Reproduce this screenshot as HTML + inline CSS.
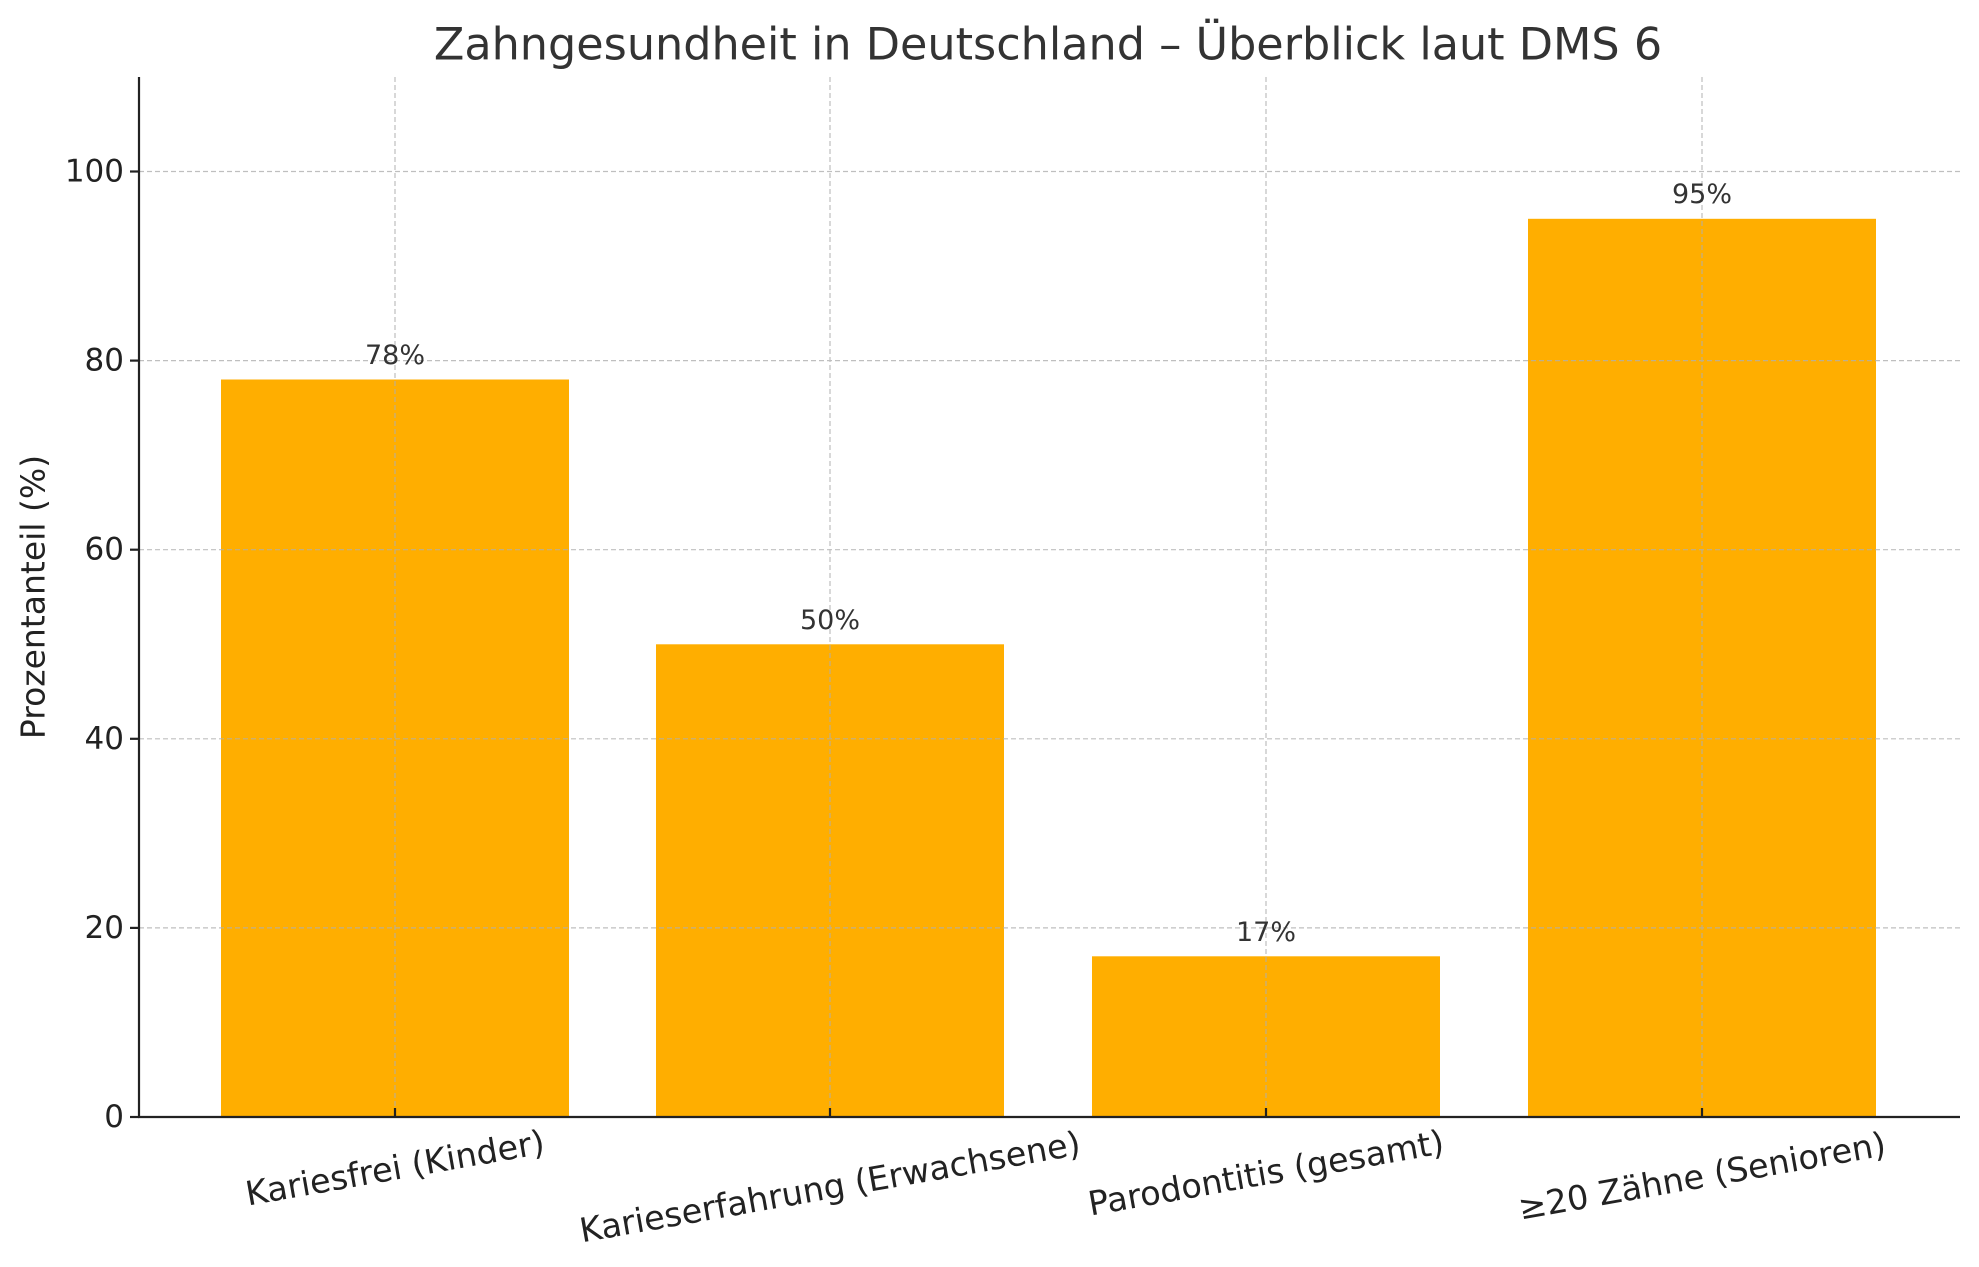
<!DOCTYPE html>
<html><head><meta charset="utf-8"><style>
html,body{margin:0;padding:0;background:#fff;}
svg{display:block;}
text{font-family:"DejaVu Sans","Liberation Sans",sans-serif;}
</style></head><body>
<svg width="1979" height="1267" viewBox="0 0 1979 1267" xmlns="http://www.w3.org/2000/svg">
<rect width="1979" height="1267" fill="#fff"/>
<g fill="#FFAE00">
<rect x="221" y="379.5" width="348" height="737.5"/>
<rect x="656" y="644.3" width="348" height="472.7"/>
<rect x="1092" y="956.3" width="348" height="160.7"/>
<rect x="1528" y="218.8" width="348" height="898.2"/>
</g>
<g stroke="#b0b0b0" stroke-width="1.2" stroke-dasharray="5,3" opacity="0.8">
<line x1="139" x2="1960" y1="927.9" y2="927.9"/>
<line x1="139" x2="1960" y1="738.8" y2="738.8"/>
<line x1="139" x2="1960" y1="549.7" y2="549.7"/>
<line x1="139" x2="1960" y1="360.6" y2="360.6"/>
<line x1="139" x2="1960" y1="171.5" y2="171.5"/>
<line x1="395" x2="395" y1="77" y2="1117"/>
<line x1="830" x2="830" y1="77" y2="1117"/>
<line x1="1266" x2="1266" y1="77" y2="1117"/>
<line x1="1702" x2="1702" y1="77" y2="1117"/>
</g>
<g stroke="#222" stroke-width="2.2">
<line x1="139" x2="139" y1="77" y2="1118"/>
<line x1="138" x2="1960" y1="1117" y2="1117"/>
<line x1="130" x2="139" y1="1117" y2="1117"/>
<line x1="130" x2="139" y1="927.9" y2="927.9"/>
<line x1="130" x2="139" y1="738.8" y2="738.8"/>
<line x1="130" x2="139" y1="549.7" y2="549.7"/>
<line x1="130" x2="139" y1="360.6" y2="360.6"/>
<line x1="130" x2="139" y1="171.5" y2="171.5"/>
<line x1="395" x2="395" y1="1108" y2="1117"/>
<line x1="830" x2="830" y1="1108" y2="1117"/>
<line x1="1266" x2="1266" y1="1108" y2="1117"/>
<line x1="1702" x2="1702" y1="1108" y2="1117"/>
</g>
<g font-size="31" fill="#222" text-anchor="end" dominant-baseline="central">
<text x="124" y="1117">0</text>
<text x="124" y="927.9">20</text>
<text x="124" y="738.8">40</text>
<text x="124" y="549.7">60</text>
<text x="124" y="360.6">80</text>
<text x="124" y="171.5">100</text>
</g>
<text transform="translate(33,597) rotate(-90)" font-size="33" fill="#222" text-anchor="middle" dominant-baseline="central">Prozentanteil (%)</text>
<text x="1048" y="45" font-size="44.5" fill="#333" text-anchor="middle" dominant-baseline="central">Zahngesundheit in Deutschland – Überblick laut DMS 6</text>
<g font-size="27" fill="#333" text-anchor="middle">
<text x="395" y="364">78%</text>
<text x="830" y="629">50%</text>
<text x="1266" y="941">17%</text>
<text x="1702" y="203">95%</text>
</g>
<g font-size="33.5" fill="#222" text-anchor="middle" dominant-baseline="central">
<text transform="translate(395,1168) rotate(-10)">Kariesfrei (Kinder)</text>
<text transform="translate(830,1187) rotate(-10)">Karieserfahrung (Erwachsene)</text>
<text transform="translate(1266,1173) rotate(-10)">Parodontitis (gesamt)</text>
<text transform="translate(1702,1176) rotate(-10)">≥20 Zähne (Senioren)</text>
</g>
</svg>
</body></html>
